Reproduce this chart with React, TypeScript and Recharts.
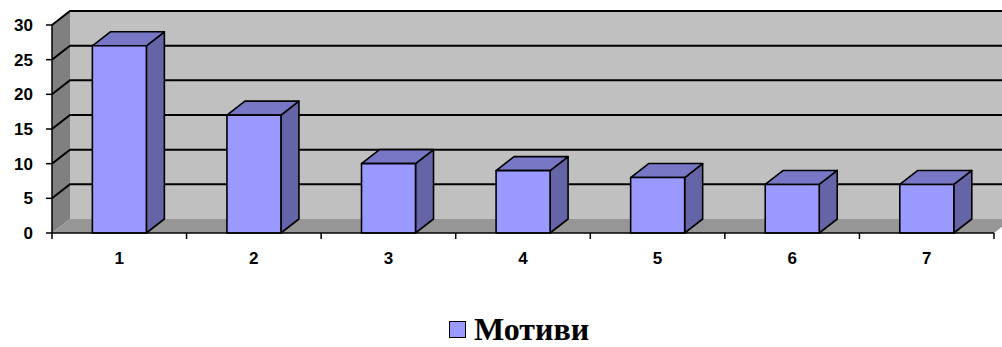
import React from 'react';
import { BarChart, Bar, XAxis, YAxis, ReferenceArea } from 'recharts';

const categories = ['1', '2', '3', '4', '5', '6', '7'];
const motives = [27, 17, 10, 9, 8, 7, 7];
const yTicks = [0, 5, 10, 15, 20, 25, 30];
const seriesName = 'Мотиви';

const data = categories.map((name, i) => ({ name, value: motives[i] }));

// 3D depth offset (Excel style)
const DX = 18;
const DY = 14;

const Walls = (props: any) => {
  const { x, y, width, height } = props;
  const bottom = y + height;
  const n = categories.length;
  const ticks = [];
  for (let i = 0; i <= n; i++) {
    const tx = x + (i * width) / n;
    ticks.push(<line key={i} x1={tx} y1={bottom} x2={tx} y2={bottom + 6} stroke="#000" strokeWidth={1.5} />);
  }
  return (
    <g>
      <rect x={x + DX} y={y - DY} width={width} height={height} fill="#C0C0C0" />
      <polygon
        points={`${x},${bottom} ${x},${y} ${x + DX},${y - DY} ${x + DX},${bottom - DY}`}
        fill="#808080"
      />
      <polygon
        points={`${x},${bottom} ${x + width},${bottom} ${x + width + DX},${bottom - DY} ${x + DX},${bottom - DY}`}
        fill="#969696"
      />
      {ticks}
    </g>
  );
};

const GridLine = (props: any) => {
  const { x, y, width } = props;
  return (
    <polyline
      points={`${x},${y} ${x + DX},${y - DY} ${x + width + DX},${y - DY}`}
      fill="none"
      stroke="#000"
      strokeWidth={2}
    />
  );
};

const Box = (props: any) => {
  const { x, y, width, height } = props;
  if (!height) return <g />;
  return (
    <g stroke="#000" strokeWidth={1.6} strokeLinejoin="round">
      <polygon
        points={`${x + width},${y} ${x + width + DX},${y - DY} ${x + width + DX},${y + height - DY} ${x + width},${y + height}`}
        fill="#6464A6"
      />
      <polygon
        points={`${x},${y} ${x + DX},${y - DY} ${x + width + DX},${y - DY} ${x + width},${y}`}
        fill="#7777C6"
      />
      <rect x={x} y={y} width={width} height={height} fill="#9999FF" />
    </g>
  );
};

const tickStyle = { fontFamily: 'Arial, "Liberation Sans", sans-serif', fontWeight: 700, fontSize: 17, fill: '#000' };

export default function App() {
  return (
    <div style={{ position: 'absolute', left: 0, top: 0, width: 1002, height: 347, overflow: 'hidden', background: '#fff' }}>
      <BarChart
        width={1002}
        height={347}
        data={data}
        margin={{ top: 25, right: 8, bottom: 84, left: 0 }}
        barCategoryGap="30%"
      >
        <XAxis
          dataKey="name"
          height={30}
          tickLine={false}
          axisLine={{ stroke: '#000', strokeWidth: 1.5 }}
          tick={tickStyle}
          tickMargin={13}
        />
        <YAxis
          width={52}
          domain={[0, 30]}
          ticks={yTicks}
          interval={0}
          axisLine={{ stroke: '#000', strokeWidth: 1.5 }}
          tickLine={{ stroke: '#000', strokeWidth: 1.5 }}
          tickSize={6}
          tickMargin={13}
          tick={tickStyle}
        />
        <ReferenceArea y1={0} y2={30} shape={Walls} ifOverflow="visible" />
        {yTicks
          .filter((v) => v > 0)
          .map((v) => (
            <ReferenceArea key={v} y1={0} y2={v} shape={GridLine} ifOverflow="visible" />
          ))}
        <Bar dataKey="value" name={seriesName} shape={Box} isAnimationActive={false} />
      </BarChart>
      <div
        style={{
          position: 'absolute',
          left: 449,
          top: 312,
          display: 'flex',
          alignItems: 'center',
          fontFamily: '"Times New Roman", "Liberation Serif", serif',
          fontWeight: 700,
          fontSize: 32,
          lineHeight: '34px',
        }}
      >
        <span style={{ display: 'inline-block', width: 15, height: 15, background: '#9999FF', border: '1.5px solid #000', marginRight: 8 }} />
        <span>{seriesName}</span>
      </div>
    </div>
  );
}
